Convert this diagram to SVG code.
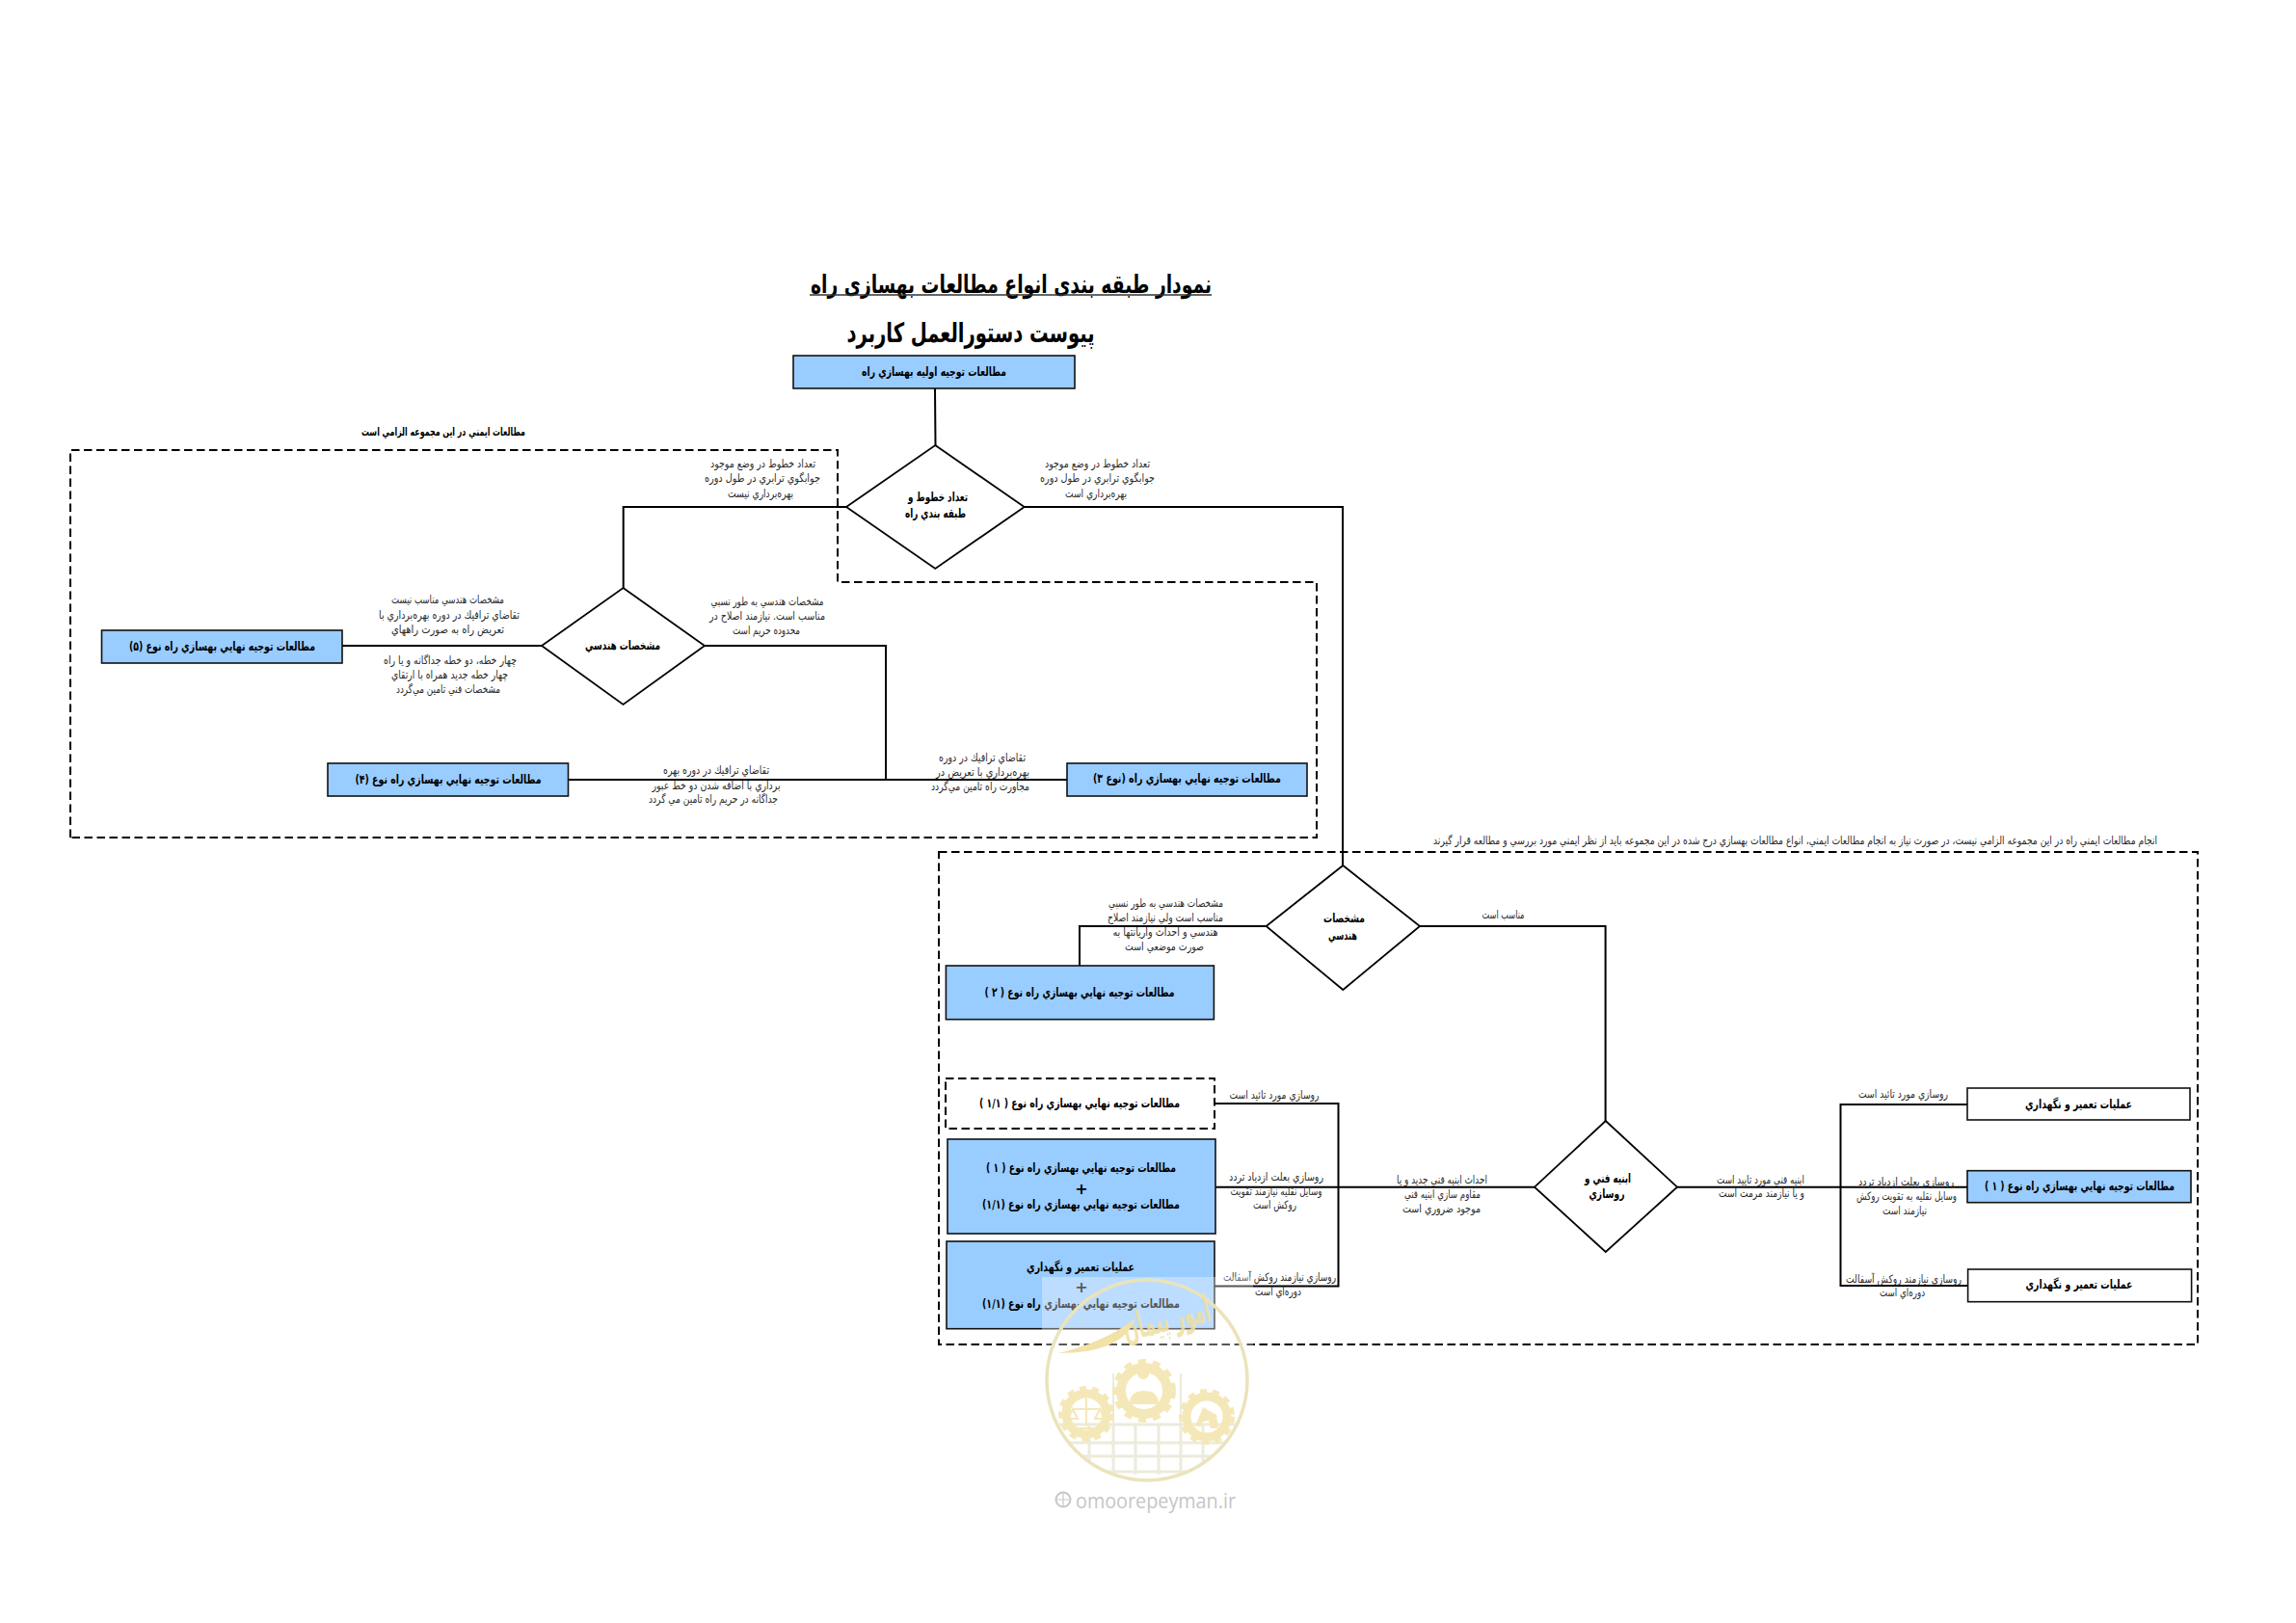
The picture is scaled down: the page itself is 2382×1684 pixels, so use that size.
<svg xmlns="http://www.w3.org/2000/svg" width="2382" height="1684" viewBox="0 0 2382 1684">
<style>
text{font-family:"DejaVu Sans","Noto Sans",sans-serif;direction:rtl;text-anchor:middle;dominant-baseline:central}
.l{font-size:11.5px;fill:#2a2a2a}
.b{font-size:13px;font-weight:bold;fill:#000}
.t{font-weight:bold;fill:#000}
.box{fill:#99ccff;stroke:#111;stroke-width:1.6}
.wbox{fill:#fff;stroke:#111;stroke-width:1.6}
.dia{fill:#fff;stroke:#000;stroke-width:1.8}
.c{fill:none;stroke:#000;stroke-width:2}
.d{fill:none;stroke:#000;stroke-width:2;stroke-dasharray:8.5 4.5}
.g{fill:none;stroke:#f5e8b8}
</style>
<rect width="2382" height="1684" fill="#fff"/>

<g id="titles">
<text class="t" x="1049" y="295" font-size="26" textLength="416" lengthAdjust="spacingAndGlyphs">نمودار طبقه بندی انواع مطالعات بهسازی راه</text>
<path d="M840 306H1257" stroke="#333" stroke-width="1.6"/>
<text class="t" x="1007" y="345" font-size="28" textLength="257" lengthAdjust="spacingAndGlyphs">پیوست دستورالعمل کاربرد</text>
</g>

<g id="regions">
<path class="d" d="M73 869V467H869V604H1366V869H73"/>
<rect class="d" x="974" y="884" width="1306" height="511"/>
<path class="d" d="M981 1119H1260V1171H981Z"/>
</g>

<g id="connectors">
<path class="c" d="M970 403L970.5 462"/>
<path class="c" d="M1063 526H1393V898"/>
<path class="c" d="M878 526H646.7V610"/>
<path class="c" d="M355 670H562"/>
<path class="c" d="M731 670H919V809"/>
<path class="c" d="M589.5 809H1107"/>
<path class="c" d="M1473 961H1665.6V1163"/>
<path class="c" d="M1313.6 961H1120V1002"/>
<path class="c" d="M1260 1145H1388.5V1334.5H1260"/>
<path class="c" d="M1261 1231.7H1592"/>
<path class="c" d="M2041 1146H1909.5V1334H2041"/>
<path class="c" d="M1740 1231.7H2041"/>
</g>

<g id="node-initial"><rect class="box" x="823" y="369" width="292" height="34"/>
<text class="b" x="969" y="385" textLength="150" lengthAdjust="spacingAndGlyphs">مطالعات توجيه اوليه بهسازي راه</text></g>

<g id="node-lanes"><path class="dia" d="M970.3 462L1062.7 526L970.3 590L878 526Z"/>
<text class="b" x="973" y="515.7" textLength="62" lengthAdjust="spacingAndGlyphs">تعداد خطوط و</text>
<text class="b" x="970.5" y="532.7" textLength="63" lengthAdjust="spacingAndGlyphs">طبقه بندي راه</text></g>

<g id="node-geo1"><path class="dia" d="M646.5 610L731 670L646.5 731L562 670Z"/>
<text class="b" x="646" y="669.7" textLength="78" lengthAdjust="spacingAndGlyphs">مشخصات هندسي</text></g>

<g id="node-type5"><rect class="box" x="105.5" y="654" width="249.5" height="34"/>
<text class="b" x="230.5" y="670" textLength="193" lengthAdjust="spacingAndGlyphs">مطالعات توجيه نهايي بهسازي راه نوع (۵)</text></g>

<g id="node-type4"><rect class="box" x="340" y="792" width="249.5" height="34"/>
<text class="b" x="465" y="808" textLength="193" lengthAdjust="spacingAndGlyphs">مطالعات توجيه نهايي بهسازي راه نوع (۴)</text></g>

<g id="node-type3"><rect class="box" x="1107" y="792" width="249" height="34"/>
<text class="b" x="1231.5" y="807.7" textLength="195" lengthAdjust="spacingAndGlyphs">مطالعات توجيه نهايي بهسازي راه (نوع ۳)</text></g>

<g id="node-geo2"><path class="dia" d="M1393.3 898L1473 961L1393.3 1027L1313.6 961Z"/>
<text class="b" x="1394.5" y="952.7" textLength="43" lengthAdjust="spacingAndGlyphs">مشخصات</text>
<text class="b" x="1393" y="970" textLength="30" lengthAdjust="spacingAndGlyphs">هندسي</text></g>

<g id="node-type2"><rect class="box" x="981.4" y="1002" width="278" height="55.7"/>
<text class="b" x="1120" y="1029" textLength="197" lengthAdjust="spacingAndGlyphs">مطالعات توجيه نهايي بهسازي راه نوع ( ۲ )</text></g>

<g id="node-type11"><text class="b" x="1120" y="1144" textLength="208" lengthAdjust="spacingAndGlyphs">مطالعات توجيه نهايي بهسازي راه نوع ( ۱/۱ )</text></g>

<g id="node-type1-11"><rect class="box" x="983" y="1182" width="278" height="98"/>
<text class="b" x="1121.5" y="1211" textLength="197" lengthAdjust="spacingAndGlyphs">مطالعات توجيه نهايي بهسازي راه نوع ( ۱ )</text>
<text class="b" x="1122" y="1233" style="font-size:16px">+</text>
<text class="b" x="1121.5" y="1249" textLength="205" lengthAdjust="spacingAndGlyphs">مطالعات توجيه نهايي بهسازي راه نوع (۱/۱)</text></g>

<g id="node-maint-11"><rect class="box" x="982" y="1288" width="278" height="90.7"/>
<text class="b" x="1121" y="1314" textLength="112" lengthAdjust="spacingAndGlyphs">عمليات تعمير و نگهداري</text>
<text class="b" x="1122" y="1335" style="font-size:16px">+</text>
<text class="b" x="1121.5" y="1352" textLength="205" lengthAdjust="spacingAndGlyphs">مطالعات توجيه نهايي بهسازي راه نوع (۱/۱)</text></g>

<g id="node-structure"><path class="dia" d="M1665.8 1163L1740 1231.7L1665.8 1299L1592 1231.7Z"/>
<text class="b" x="1668" y="1222" textLength="48" lengthAdjust="spacingAndGlyphs">ابنيه فني و</text>
<text class="b" x="1667" y="1238.7" textLength="37" lengthAdjust="spacingAndGlyphs">روسازي</text></g>

<g id="node-maint-a"><rect class="wbox" x="2041" y="1129" width="231" height="33"/>
<text class="b" x="2156.5" y="1145" textLength="111" lengthAdjust="spacingAndGlyphs">عمليات تعمير و نگهداري</text></g>

<g id="node-type1"><rect class="box" x="2041" y="1214.7" width="232" height="33"/>
<text class="b" x="2157.5" y="1230" textLength="197" lengthAdjust="spacingAndGlyphs">مطالعات توجيه نهايي بهسازي راه نوع ( ۱ )</text></g>

<g id="node-maint-b"><rect class="wbox" x="2041.6" y="1317" width="232" height="33.7"/>
<text class="b" x="2157" y="1332.7" textLength="111" lengthAdjust="spacingAndGlyphs">عمليات تعمير و نگهداري</text></g>

<g id="labels">
<text class="b" x="460" y="448" style="font-size:11.5px" textLength="170" lengthAdjust="spacingAndGlyphs">مطالعات   ايمني در اين مجموعه الزامي است</text>
<text class="l" x="1862.5" y="872" textLength="751" lengthAdjust="spacingAndGlyphs">انجام مطالعات ايمني راه در اين مجموعه الزامي نيست، در صورت نياز به انجام مطالعات ايمني، انواع مطالعات بهسازي درج شده در اين مجموعه بايد از نظر ايمني مورد بررسي و مطالعه قرار گيرند</text>

<text class="l" x="791.5" y="480.7" textLength="109" lengthAdjust="spacingAndGlyphs">تعداد خطوط در وضع موجود</text>
<text class="l" x="791" y="496" textLength="120" lengthAdjust="spacingAndGlyphs">جوابگوي ترابري در طول دوره</text>
<text class="l" x="789" y="511.7" textLength="68" lengthAdjust="spacingAndGlyphs">بهره‌برداري نيست</text>

<text class="l" x="1138.5" y="480.7" textLength="109" lengthAdjust="spacingAndGlyphs">تعداد خطوط در وضع موجود</text>
<text class="l" x="1138.5" y="496" textLength="119" lengthAdjust="spacingAndGlyphs">جوابگوي ترابري در طول دوره</text>
<text class="l" x="1137" y="511.7" textLength="64" lengthAdjust="spacingAndGlyphs">بهره‌برداري است</text>

<text class="l" x="464.5" y="622" textLength="117" lengthAdjust="spacingAndGlyphs">مشخصات هندسي مناسب نيست</text>
<text class="l" x="466" y="638" textLength="146" lengthAdjust="spacingAndGlyphs">تقاضاي ترافيك در دوره بهره‌برداري با</text>
<text class="l" x="464.5" y="652.7" textLength="117" lengthAdjust="spacingAndGlyphs">تعريض راه به صورت راههاي</text>
<text class="l" x="467" y="685" textLength="138" lengthAdjust="spacingAndGlyphs">چهار خطه، دو خطه جداگانه و يا راه</text>
<text class="l" x="466.5" y="700" textLength="121" lengthAdjust="spacingAndGlyphs">چهار خطه جديد همراه با ارتقاي</text>
<text class="l" x="465" y="715" textLength="108" lengthAdjust="spacingAndGlyphs">مشخصات فني تامين مي‌گردد</text>

<text class="l" x="796" y="624" textLength="117" lengthAdjust="spacingAndGlyphs">مشخصات هندسي به طور نسبي</text>
<text class="l" x="796" y="639" textLength="120" lengthAdjust="spacingAndGlyphs">مناسب است. نيازمند اصلاح در</text>
<text class="l" x="795" y="654" textLength="70" lengthAdjust="spacingAndGlyphs">محدوده حريم است</text>

<text class="l" x="743" y="799" textLength="110" lengthAdjust="spacingAndGlyphs">تقاضاي ترافيك در دوره بهره</text>
<text class="l" x="743" y="814.7" textLength="133" lengthAdjust="spacingAndGlyphs">برداري با اضافه شدن دو خط عبور</text>
<text class="l" x="740" y="829" textLength="134" lengthAdjust="spacingAndGlyphs">جداگانه در حريم راه تامين مي گردد</text>

<text class="l" x="1019" y="785.7" textLength="90" lengthAdjust="spacingAndGlyphs">تقاضاي ترافيك در دوره</text>
<text class="l" x="1019.5" y="801" textLength="97" lengthAdjust="spacingAndGlyphs">بهره‌برداري با تعريض در</text>
<text class="l" x="1017" y="816" textLength="102" lengthAdjust="spacingAndGlyphs">مجاورت راه تامين مي‌گردد</text>

<text class="l" x="1559.5" y="949" textLength="44" lengthAdjust="spacingAndGlyphs">مناسب است</text>

<text class="l" x="1209.5" y="936.7" textLength="119" lengthAdjust="spacingAndGlyphs">مشخصات هندسي به طور نسبي</text>
<text class="l" x="1209" y="951.7" textLength="120" lengthAdjust="spacingAndGlyphs">مناسب است ولي نيازمند اصلاح</text>
<text class="l" x="1209" y="967" textLength="109" lengthAdjust="spacingAndGlyphs">هندسي  و احداث واريانتها به</text>
<text class="l" x="1208" y="982" textLength="82" lengthAdjust="spacingAndGlyphs">صورت موضعي است</text>

<text class="l" x="1322" y="1136" textLength="93" lengthAdjust="spacingAndGlyphs">روسازي مورد تائيد است</text>
<text class="l" x="1324" y="1221" textLength="98" lengthAdjust="spacingAndGlyphs">روسازي بعلت ازدياد تردد</text>
<text class="l" x="1324" y="1236" textLength="95" lengthAdjust="spacingAndGlyphs">وسايل نقليه نيازمند تقويت</text>
<text class="l" x="1322.5" y="1250" textLength="45" lengthAdjust="spacingAndGlyphs">روكش است</text>
<text class="l" x="1327.5" y="1325" textLength="117" lengthAdjust="spacingAndGlyphs">روسازي نيازمند روكش آسفالت</text>
<text class="l" x="1326" y="1340" textLength="48" lengthAdjust="spacingAndGlyphs">دوره‌اي است</text>

<text class="l" x="1496" y="1223.7" textLength="94" lengthAdjust="spacingAndGlyphs">احداث ابنيه فني جديد و يا</text>
<text class="l" x="1496.5" y="1239" textLength="79" lengthAdjust="spacingAndGlyphs">مقاوم سازي ابنيه فني</text>
<text class="l" x="1495.5" y="1254" textLength="81" lengthAdjust="spacingAndGlyphs">موجود ضروري است</text>

<text class="l" x="1826.5" y="1224" textLength="91" lengthAdjust="spacingAndGlyphs">ابنيه فني مورد تاييد است</text>
<text class="l" x="1827.5" y="1237.7" textLength="89" lengthAdjust="spacingAndGlyphs">و يا نيازمند مرمت است</text>

<text class="l" x="1974.5" y="1135" textLength="93" lengthAdjust="spacingAndGlyphs">روسازي مورد تائيد است</text>
<text class="l" x="1977.5" y="1226" textLength="99" lengthAdjust="spacingAndGlyphs">روسازي بعلت ازدياد تردد</text>
<text class="l" x="1978" y="1241" textLength="104" lengthAdjust="spacingAndGlyphs">وسايل نقليه به تقويت روكش</text>
<text class="l" x="1976" y="1256" textLength="46" lengthAdjust="spacingAndGlyphs">نيازمند است</text>
<text class="l" x="1975" y="1326.7" textLength="120" lengthAdjust="spacingAndGlyphs">روسازي نيازمند روكش  آسفالت</text>
<text class="l" x="1973.5" y="1341" textLength="47" lengthAdjust="spacingAndGlyphs">دوره‌اي است</text>
</g>

<g id="watermark">
<defs><clipPath id="disc"><circle cx="1190" cy="1432" r="104"/></clipPath></defs>
<rect x="1081" y="1325" width="219" height="250" fill="#fff" fill-opacity=".34"/>
<g clip-path="url(#disc)" fill="none" stroke="#ecebdc" stroke-width="3">
<path d="M1130 1478V1530M1155 1478V1530M1178 1478V1530M1202 1478V1530M1225 1478V1530M1248 1478V1530"/>
<path d="M1095 1478H1285M1090 1497H1290M1100 1511H1280M1115 1527H1265"/>
<path d="M1155 1425V1478M1225 1425V1478" stroke-width="2"/>
</g>
<circle cx="1190" cy="1432" r="104" fill="none" stroke="#ebe3bb" stroke-width="3.500"/>
<g>
<circle class="g" cx="1187" cy="1443" r="24" stroke-width="10"/>
<circle class="g" cx="1187" cy="1443" r="30" stroke-width="6" stroke-dasharray="8 7"/>
<circle class="g" cx="1127" cy="1467" r="21" stroke-width="9"/>
<circle class="g" cx="1127" cy="1467" r="26.500" stroke-width="5" stroke-dasharray="7 6"/>
<circle class="g" cx="1252" cy="1470" r="21" stroke-width="9"/>
<circle class="g" cx="1252" cy="1470" r="26.500" stroke-width="5" stroke-dasharray="7 6"/>
<path d="M1186 1431a6 6 0 1 1 .1 0M1172 1457c0-10 6-14 15-14s15 4 15 14Z" fill="#f5e8b8"/>
<path d="M1127 1451V1480M1113 1462H1141M1113 1462l-5 10h10ZM1141 1462l-5 10h10ZM1118 1482H1136" fill="none" stroke="#f5e8b8" stroke-width="2"/>
<path d="M1240 1480l8-20 14 8 2 14h-8l-2-8-6 1-2 5Z" fill="#f5e8b8"/>
</g>
<path d="M1098 1404Q1165 1404 1178 1368Q1145 1393 1098 1404Z" fill="#f2e2a8"/>
<text x="1210" y="1368" font-size="38" font-weight="bold" fill="#efdfa2" fill-opacity=".9" transform="rotate(-14 1210 1368)" textLength="92" lengthAdjust="spacingAndGlyphs">امور پیمان</text>
<circle cx="1103" cy="1556" r="7.500" fill="none" stroke="#c8c8c8" stroke-width="2"/>
<path d="M1095.500 1556H1110.500M1103 1548.500V1563.500" stroke="#c8c8c8" stroke-width="1.200"/>
<text x="1199" y="1556" font-size="22" fill="#c6c6c6" style="font-family:'Open Sans','DejaVu Sans',sans-serif;direction:ltr" textLength="166" lengthAdjust="spacingAndGlyphs">omoorepeyman.ir</text>
</g>
</svg>
